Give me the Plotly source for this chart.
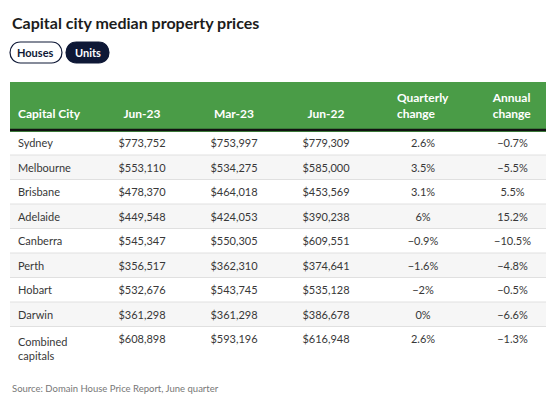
import plotly.graph_objects as go

W, H = 554, 401
OFF = 8  # page body margin

cities = ["Sydney", "Melbourne", "Brisbane", "Adelaide", "Canberra", "Perth",
          "Hobart", "Darwin", "Combined<br>capitals"]
jun23 = ["$773,752", "$553,110", "$478,370", "$449,548", "$545,347", "$356,517",
         "$532,676", "$361,298", "$608,898"]
mar23 = ["$753,997", "$534,275", "$464,018", "$424,053", "$550,305", "$362,310",
         "$543,745", "$361,298", "$593,196"]
jun22 = ["$779,309", "$585,000", "$453,569", "$390,238", "$609,551", "$374,641",
         "$535,128", "$386,678", "$616,948"]
quarterly = ["2.6%", "3.5%", "3.1%", "6%", "\u22120.9%", "\u22121.6%", "\u22122%", "0%", "2.6%"]
annual = ["\u22120.7%", "\u22125.5%", "5.5%", "15.2%", "\u221210.5%", "\u22124.8%",
          "\u22120.5%", "\u22126.6%", "\u22121.3%"]
headers = ["\u00a0<br><b>Capital City</b>", "\u00a0<br><b>Jun-23</b>", "\u00a0<br><b>Mar-23</b>",
           "\u00a0<br><b>Jun-22</b>", "<b>Quarterly<br>change</b>", "<b>Annual<br>change</b>"]

GREEN = "#4a9c47"
NAVY = "#0e1836"
TXT = "#383838"
FONT = "Lato"

HDR_H = 49
CELL_H = 24.5
TOP = 82
LEFT, RIGHT = 10, 551

row_fill = ["#ffffff" if i % 2 == 0 else "#f6f6f6" for i in range(len(cities))]
ncol = len(headers)

px = lambda v: (v - OFF) / W
py = lambda v: 1 - (v - OFF) / H

fig = go.Figure(go.Table(
    domain=dict(x=[px(LEFT), px(RIGHT)], y=[0.0, py(TOP)]),
    columnwidth=[86, 92, 92, 92, 102, 77],
    header=dict(
        values=headers,
        fill_color=GREEN,
        line=dict(color=GREEN, width=1),
        font=dict(family=FONT, size=12, color="white"),
        align=["left"] + ["center"] * (ncol - 1),
        height=HDR_H,
    ),
    cells=dict(
        values=[cities, jun23, mar23, jun22, quarterly, annual],
        fill_color=[row_fill] * ncol,
        line=dict(color=[row_fill] * ncol, width=1),
        font=dict(family=FONT, size=11, color=TXT),
        align=["left"] + ["center"] * (ncol - 1),
        height=CELL_H,
    ),
))

def pill(x0, x1, y0, y1, fill, line):
    r = (y1 - y0) / 2
    k = r * 0.33
    path = (f"M {px(x0 + r)},{py(y0)} L {px(x1 - r)},{py(y0)} "
            f"C {px(x1 + k)},{py(y0)} {px(x1 + k)},{py(y1)} {px(x1 - r)},{py(y1)} "
            f"L {px(x0 + r)},{py(y1)} "
            f"C {px(x0 - k)},{py(y1)} {px(x0 - k)},{py(y0)} {px(x0 + r)},{py(y0)} Z")
    return dict(type="path", xref="paper", yref="paper", path=path,
                fillcolor=fill, line=dict(color=line, width=1.2), layer="above")

shapes = [
    pill(10, 62, 42, 63, "white", NAVY),
    pill(66, 109, 42, 63, NAVY, NAVY),
]
# row separators
for i in range(1, len(cities)):
    yy = TOP + HDR_H + i * CELL_H - 0.5
    shapes.append(dict(type="line", xref="paper", yref="paper", x0=px(LEFT), x1=px(RIGHT),
                       y0=py(yy), y1=py(yy), line=dict(color="#e0e0e0", width=1), layer="above"))
shapes.append(dict(type="line", xref="paper", yref="paper", x0=px(LEFT), x1=px(RIGHT),
                   y0=py(TOP + HDR_H - 1), y1=py(TOP + HDR_H - 1),
                   line=dict(color="#111111", width=2.5), layer="above"))

annotations = [
    dict(text="<b>Capital city median property prices</b>", x=px(10), y=py(22),
         xref="paper", yref="paper", showarrow=False, xanchor="left", yanchor="middle",
         font=dict(family=FONT, size=16, color="#1c1c1c")),
    dict(text="<b>Houses</b>", x=px(36), y=py(52.5), xref="paper", yref="paper",
         showarrow=False, font=dict(family=FONT, size=11, color=NAVY), xanchor="center", yanchor="middle"),
    dict(text="<b>Units</b>", x=px(87.5), y=py(52.5), xref="paper", yref="paper",
         showarrow=False, font=dict(family=FONT, size=11, color="white"), xanchor="center", yanchor="middle"),
    dict(text="Source: Domain House Price Report, June quarter", x=px(10), y=py(388),
         xref="paper", yref="paper", showarrow=False, xanchor="left", yanchor="middle",
         font=dict(family=FONT, size=9.5, color="#777777")),
]

fig.update_layout(
    width=W, height=H,
    margin=dict(l=0, r=0, t=0, b=0),
    paper_bgcolor="white",
    shapes=shapes,
    annotations=annotations,
)

fig.write_html("out.html")
